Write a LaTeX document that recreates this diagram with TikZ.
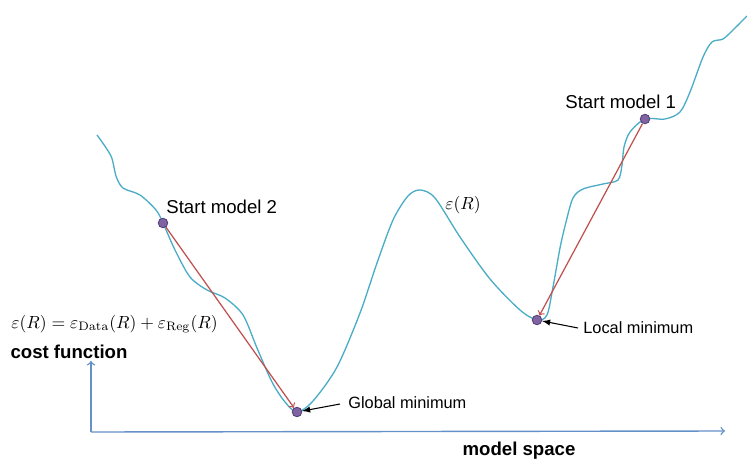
\documentclass[tikz,border=0pt]{standalone}
\usepackage{amsmath}
\usepackage[no-math]{fontspec}
\setmainfont{Liberation Sans}
\usetikzlibrary{positioning}
\definecolor{curvecol}{RGB}{75,172,198}
\definecolor{stepcol}{RGB}{192,80,77}
\definecolor{dotcol}{RGB}{128,100,162}
\definecolor{dotline}{RGB}{85,65,125}
\definecolor{axiscol}{RGB}{100,145,200}
\newcommand{\errR}{\varepsilon(R)}

\begin{document}
\begin{tikzpicture}[x=0.02cm, y=-0.02cm,
    dot/.style={circle, draw=dotline, fill=dotcol, line width=0.5pt, minimum size=0.19cm, inner sep=0pt},
    lbl/.style={anchor=west, inner sep=0pt, font=\fontsize{10.6}{12}\selectfont},
    small/.style={anchor=west, inner sep=0pt, font=\fontsize{9.3}{11}\selectfont},
    bold/.style={inner sep=0pt, font=\fontsize{10.6}{12}\selectfont\bfseries}]
    \useasboundingbox (0,0) rectangle (747,463);

    % Axes
    \coordinate (O) at (91,432);
    \coordinate (Y) at (91,361);
    \coordinate (Xend) at (725,431);
    \draw[->, axiscol, line width=0.8pt] (O) -- (Y);
    \draw[->, axiscol, line width=0.8pt] (O) -- (Xend);
    \node[bold] (cost) at (69,352) {cost function};
    \node[bold] (space) at (519,451) {model space};
    \node[anchor=west, inner sep=0pt] (eq) at (11,324)
        {$\varepsilon(R) = \varepsilon_{\mathrm{Data}}(R) + \varepsilon_{\mathrm{Reg}}(R)$};

    % Cost curve
    \draw[curvecol, line width=0.75pt] plot[smooth, tension=0.5] coordinates {
        (97,135) (111,156) (116,176) (123,188) (140,195) (156,210) (163,223)
        (175,250) (190,277) (207,290) (225,298) (243,315) (257,348) (272,382)
        (285,402) (297,412) (313,401) (337,367) (360,313) (377,263) (393,220)
        (408,196) (420,190) (435,198) (460,237) (490,279) (520,310) (537,320)
        (547,315) (553,287) (560,248) (566,222) (573,198) (583,189) (603,184)
        (618,180) (622,165) (624,147) (630,132) (645,119) (665,119) (680,112)
        (690,92) (703,57) (712,42) (723,39) (733,30) (747,16)};
    \node[anchor=west, inner sep=0pt] (errlbl) at (445,205) {$\errR$};

    % Models
    \node[dot] (s2) at (163,223) {};
    \node[dot] (gmin) at (297,412) {};
    \node[dot] (lmin) at (537,320) {};
    \node[dot] (s1) at (645,119) {};
    \node[lbl] (s2lbl) at (166,207) {Start model 2};
    \node[lbl] (s1lbl) at (565,102) {Start model 1};
    \node[small] (glbl) at (348,403) {Global minimum};
    \node[small] (llbl) at (583,328) {Local minimum};

    % Arrows
    \draw[->, stepcol, line width=0.7pt] (s2) -- (gmin);
    \draw[->, stepcol, line width=0.7pt] (s1) -- (lmin);
    \draw[-latex, black, line width=0.6pt] (glbl.west) ++(-8,1) -- (gmin);
    \draw[-latex, black, line width=0.6pt] (llbl.west) ++(-5,0) -- (lmin);
\end{tikzpicture}
\end{document}
